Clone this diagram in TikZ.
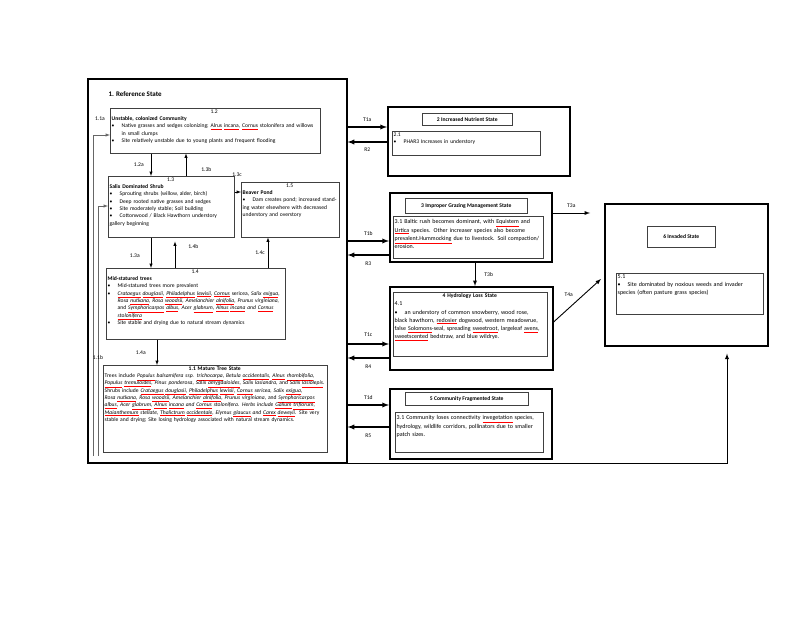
\documentclass[tikz,border=0pt]{standalone}
\usepackage{fontspec}
\setmainfont{Carlito}
\usetikzlibrary{arrows}
\newcommand{\bul}{\par\hangindent=10pt\hangafter=1\noindent\makebox[10pt][l]{\textbullet}}
\newcommand{\sq}[1]{\textcolor{red}{\underline{\textcolor{black}{#1}}}}
\newcommand{\ctr}[1]{\makebox[\linewidth]{#1}\par}
\begin{document}
\begin{tikzpicture}[x=1pt,y=-1pt,>=latex,
  box/.style={draw,anchor=north west,inner sep=0pt,line width=0.5pt,draw=black!75},
  big/.style={draw,anchor=north west,inner sep=0pt,line width=1.6pt},
  txt/.style={anchor=north west,inner sep=1.5pt,align=left,font=\fontsize{5.6}{7.3}\selectfont},
  lab/.style={font=\fontsize{5.6}{7}\selectfont,inner sep=1pt},
  arr/.style={->,line width=0.5pt},
  tarr/.style={->,line width=1.3pt}]
  \useasboundingbox (0,0) rectangle (800,618);

  % reference state
  \node[big,minimum width=259pt,minimum height=384pt] (n1) at (87,78) {};
  \node[anchor=west,font=\bfseries\fontsize{7}{8}\selectfont] (t1) at (105,94) {1. Reference State};

  \node[box,minimum width=210pt,minimum height=45pt] (n12) at (110,108) {};
  \node[txt,text width=205pt] (t12) at (n12.north west) {\ctr{1.2}\textbf{Unstable, colonized Community}
    \bul Native grasses and sedges colonizing; \sq{Alrus} \sq{incana}, \sq{Cornus} stolonifera and willows in small clumps
    \bul Site relatively unstable due to young plants and frequent flooding};

  \node[box,minimum width=126pt,minimum height=61pt] (n13) at (108,176) {};
  \node[txt,text width=122pt] (t13) at (n13.north west) {\ctr{1.3}\textbf{Salix Dominated Shrub}
    \bul Sprouting shrubs (willow, alder, birch)
    \bul Deep rooted native grasses and sedges
    \bul Site moderately stable; Soil building
    \bul Cottonwood / Black Hawthorn understory gallery beginning};

  \node[box,minimum width=98pt,minimum height=55pt] (n15) at (241,182) {};
  \node[txt,text width=94pt] (t15) at (n15.north west) {\ctr{1.5}\textbf{Beaver Pond}
    \bul Dam creates pond; increased standing water elsewhere with decreased understory and overstory};

  \node[box,minimum width=179pt,minimum height=71pt] (n14) at (106,268) {};
  \node[txt,text width=175pt] (t14) at (n14.north west) {\ctr{1.4}\textbf{Mid-statured trees}
    \bul Mid-statured trees more prevalent
    \bul \textit{\sq{Crataegus} \sq{douglasii}, \sq{Philadelphus} \sq{lewisii}, \sq{Cornus}} sericea, \textit{Salix \sq{exigua}, Rosa \sq{nutkana}, Rosa \sq{woodsii}, Amelanchier \sq{alnifolia}, Prunus virginiana,} and \textit{\sq{Symphoricarpos} \sq{albus}, Acer \sq{glabrum}, \sq{Alnus} \sq{incana} and \sq{Cornus} \sq{stolonifera}}
    \bul Site stable and drying due to natural stream dynamics};

  \node[box,minimum width=224pt,minimum height=87pt] (n11) at (103,365) {};
  \node[txt,text width=220pt] (t11) at (n11.north west) {\ctr{\textbf{1.1 Mature Tree State}}Trees include \textit{\sq{Populus} balsamifera ssp. \sq{trichocarpa}, Betula \sq{occidentalis}, \sq{Alnus} \sq{rhombifolia}, \sq{Populus} \sq{tremuloides}, Pinus ponderosa, Salix \sq{amygdaloides}, Salix lasiandra}, and \textit{Salix \sq{lasiolepis}}. Shrubs include \textit{\sq{Crataegus} \sq{douglasii}, \sq{Philadelphus} \sq{lewisii}, \sq{Cornus} sericea, Salix \sq{exigua}, Rosa \sq{nutkana}, Rosa \sq{woodsii}, Amelanchier \sq{alnifolia}, Prunus virginiana}, and \textit{\sq{Symphoricarpos} \sq{albus}, Acer \sq{glabrum}, \sq{Alnus} \sq{incana} and \sq{Cornus} stolonifera. Herbs include \sq{Galium} \sq{triflorum}, \sq{Maianthemum} stellate, \sq{Thalictrum} \sq{occidentale}, Elymus \sq{glaucus} and \sq{Carex} \sq{deweyii}.} Site very stable and drying; Site losing hydrology associated with natural stream dynamics.};

  % community pathways
  \coordinate (c1a) at (93,456);
  \coordinate (c1b) at (98,456);
  \draw[arr] ([xshift=41pt]n12.south west) -- ([xshift=43pt]n13.north west) node[lab,midway,left=6pt] {1.2a};
  \draw[arr] ([xshift=78pt]n13.north west) -- ([xshift=76pt]n12.south west) node[lab,pos=0.3,right=14pt] {1.3b};
  \draw[arr] ([yshift=-16pt]n13.north east) -- ([yshift=-10pt]n15.north west) node[lab,pos=0.4,above=14pt] {1.3c};
  \draw[arr] ([xshift=43pt]n13.south west) -- ([xshift=45pt]n14.north west) node[lab,pos=0.6,left=10pt] {1.3a};
  \draw[arr] ([xshift=69pt]n14.north west) -- ([xshift=67pt,yshift=-4pt]n13.south west) node[lab,pos=0.8,right=12pt] {1.4b};
  \draw[arr] ([xshift=162pt]n14.north west) -- ([xshift=27pt]n15.south west) node[lab,pos=0.5,left=2pt] {1.4c};
  \draw[arr] ([xshift=51pt]n14.south west) -- ([xshift=54pt]n11.north west) node[lab,midway,left=10pt] {1.4a};
  \draw[arr,draw=black!60] (c1a) |- ([yshift=-27pt]n12.north west);
  \draw[arr,draw=black!60] (c1b) |- ([yshift=-30pt]n13.north west);
  \node[lab] (l1a) at (100,119) {1.1a};
  \node[lab] (l1b) at (98,358) {1.1b};

  % other states
  \node[big,minimum width=182pt,minimum height=69pt] (n2) at (387,106) {};
  \node[box,minimum width=90pt,minimum height=12pt,font=\bfseries\fontsize{5.6}{7}\selectfont] (n2t) at (422,113) {2 Increased Nutrient State};
  \node[box,minimum width=148pt,minimum height=24pt] (n2i) at (392,131) {};
  \node[txt,text width=144pt] (t2) at (n2i.north west) {2.1\bul PHAR3 Increases in understory};

  \node[big,minimum width=162pt,minimum height=69pt] (n3) at (389,192) {};
  \node[box,minimum width=122pt,minimum height=15pt,font=\bfseries\fontsize{5.6}{7}\selectfont] (n3t) at (405,198) {3 Improper Grazing Management State};
  \node[box,minimum width=150pt,minimum height=42pt] (n3i) at (393,216) {};
  \node[txt,text width=146pt,font=\fontsize{6}{8.2}\selectfont] (t3) at ([yshift=-2pt]n3i.north west) {3.1 Baltic rush becomes dominant, with \sq{Equistem} and \sq{Urtica} species. Other increaser species also become \sq{prevalent.Hummocking} due to livestock. Soil compaction/ erosion.};

  \node[big,minimum width=163pt,minimum height=83pt] (n4) at (389,286) {};
  \node[box,minimum width=154pt,minimum height=64pt] (n4i) at (393,292) {};
  \node[txt,text width=150pt,font=\fontsize{6}{8.2}\selectfont] (t4) at (n4i.north west) {\ctr{\textbf{\fontsize{5.6}{7}\selectfont 4 Hydrology Loss State}}4.1
    \bul an understory of common snowberry, wood rose, black hawthorn, \sq{redosier} dogwood, western meadowrue, false \sq{Solomons}-seal, spreading \sq{sweetroot}, largeleaf \sq{avens}, \sq{sweetscented} bedstraw, and blue wildrye.};

  \node[big,minimum width=162pt,minimum height=70pt] (n5) at (389,388) {};
  \node[box,minimum width=123pt,minimum height=13pt,font=\bfseries\fontsize{5.6}{7}\selectfont] (n5t) at (405,392) {5 Community Fragmented State};
  \node[box,minimum width=148pt,minimum height=40pt] (n5i) at (395,412) {};
  \node[txt,text width=144pt,font=\fontsize{6}{8.2}\selectfont] (t5) at ([yshift=-2pt]n5i.north west) {3.1 Community loses connectivity \sq{invegetation} species, hydrology, wildlife corridors, pollinators due to smaller patch sizes.};

  \node[big,minimum width=163pt,minimum height=142pt] (n6) at (604,203) {};
  \node[box,minimum width=68pt,minimum height=21pt,font=\bfseries\fontsize{5.6}{7}\selectfont] (n6t) at (647,226) {6 Invaded State};
  \node[box,minimum width=147pt,minimum height=41pt] (n6i) at (616,273) {};
  \node[txt,text width=143pt,font=\fontsize{6}{8.2}\selectfont] (t6) at (n6i.north west) {5.1
    \bul Site dominated by noxious weeds and invader species (often pasture grass species)};

  % transitions and restorations
  \coordinate (c3a) at (590,213);
  \draw[tarr] ([yshift=-49pt]n1.north east) -- ([yshift=-21pt]n2.north west) node[lab,midway,above=4pt] {T1a};
  \draw[tarr] ([yshift=-36pt]n2.north west) -- ([yshift=-64pt]n1.north east) node[lab,midway,below=4pt] {R2};
  \draw[tarr] ([yshift=-163pt]n1.north east) -- ([yshift=-49pt]n3.north west) node[lab,midway,above=4pt] {T1b};
  \draw[tarr] ([yshift=-63pt]n3.north west) -- ([yshift=-177pt]n1.north east) node[lab,midway,below=5pt] {R3};
  \draw[tarr] ([yshift=-266pt]n1.north east) -- ([yshift=-58pt]n4.north west) node[lab,midway,above=6pt] {T1c};
  \draw[tarr] ([yshift=-72pt]n4.north west) -- ([yshift=-280pt]n1.north east) node[lab,midway,below=5pt] {R4};
  \draw[tarr] ([yshift=-327pt]n1.north east) -- ([yshift=-17pt]n5.north west) node[lab,midway,above=4pt] {T1d};
  \draw[tarr] ([yshift=-39pt]n5.north west) -- ([yshift=-349pt]n1.north east) node[lab,midway,below=5pt] {R5};
  \draw[arr,line width=0.9pt] ([yshift=-21pt]n3.north east) -- (c3a) node[lab,midway,above=4pt] {T3a};
  \draw[arr,line width=0.9pt] ([xshift=86pt]n3.south west) -- ([xshift=86pt]n4.north west) node[lab,midway,right=8pt] {T3b};
  \draw[arr,line width=0.9pt] ([yshift=-36pt]n4.north east) -- ([xshift=-3pt,yshift=-76pt]n6.north west) node[lab,midway,above left=3pt] {T4a};
  \draw[arr,line width=0.9pt] (n1.south east) -| ([xshift=123pt,yshift=-7pt]n6.south west);
\end{tikzpicture}
\end{document}
